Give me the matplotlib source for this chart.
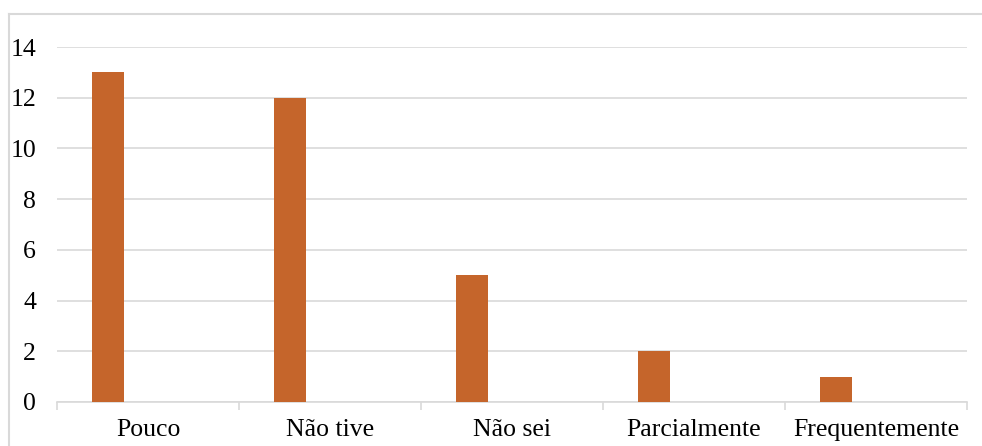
import matplotlib
matplotlib.use("Agg")
import matplotlib.pyplot as plt
from matplotlib.lines import Line2D
import numpy as np

categories = ["Pouco", "Não tive", "Não sei", "Parcialmente", "Frequentemente"]
values = [13, 12, 5, 2, 1]
y_ticks = [0, 2, 4, 6, 8, 10, 12, 14]

plt.rcParams['font.family'] = ['Liberation Serif', 'DejaVu Serif']

W, H = 982, 446
fig = plt.figure(figsize=(W / 100, H / 100), dpi=100)
ax = fig.add_axes([57 / W, (H - 402) / H, 910 / W, 355 / H])

grid_col = '#D9D9D9'
bar_col = '#C5652B'

x = np.arange(len(categories))
# bars sit left of the category centre (Excel layout with an empty 2nd series)
ax.bar(x - 0.22, values, width=0.176, color=bar_col, zorder=3)

ax.set_xlim(-0.5, len(categories) - 0.5)
ax.set_ylim(0, 14)
ax.set_yticks(y_ticks)
ax.set_yticklabels([str(v) for v in y_ticks])
ax.yaxis.grid(True, color=grid_col, linewidth=1.2, zorder=0)
ax.set_axisbelow(True)

ax.set_xticks(x)
ax.set_xticklabels(categories)
ax.set_xticks(np.arange(-0.5, len(categories)), minor=True)
ax.tick_params(axis='x', which='major', length=0, pad=12, labelsize=18.5)
ax.tick_params(axis='x', which='minor', length=6, width=1.2, color=grid_col)
ax.tick_params(axis='y', length=0, pad=15, labelsize=18.5)

for s in ['top', 'right', 'left']:
    ax.spines[s].set_visible(False)
ax.spines['bottom'].set_color(grid_col)
ax.spines['bottom'].set_linewidth(1.2)

# outer chart frame (top and left edges visible)
fig.add_artist(Line2D([9 / W, 1], [1 - 14 / H, 1 - 14 / H], transform=fig.transFigure,
                      color=grid_col, linewidth=1.5))
fig.add_artist(Line2D([9 / W, 9 / W], [0, 1 - 14 / H], transform=fig.transFigure,
                      color=grid_col, linewidth=1.5))

fig.savefig("out.png", dpi=100)
